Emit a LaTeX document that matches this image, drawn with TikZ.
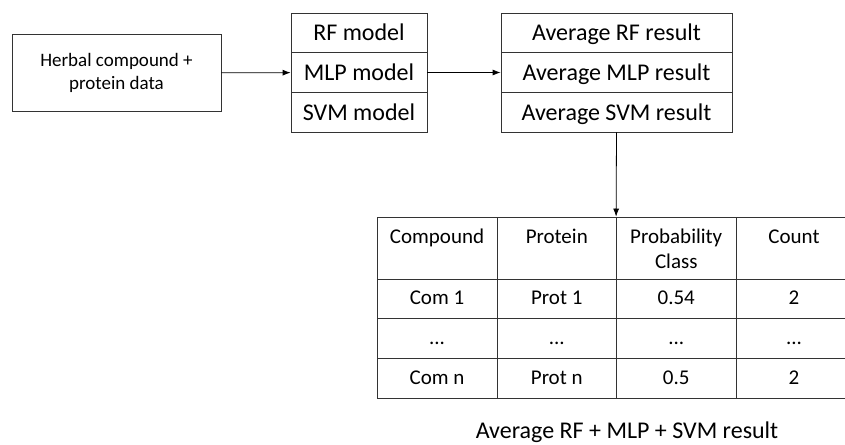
\documentclass[tikz,border=0pt]{standalone}
\usepackage{fontspec}
\setmainfont{Carlito}
\usetikzlibrary{arrows.meta}

\tikzset{
  box/.style={draw=black!80, line width=0.8pt, inner sep=0pt},
  model/.style={box, minimum height=39.7pt, text height=18pt, text depth=2pt, font=\fontsize{24}{28}\selectfont},
  cell/.style={box, minimum height=39.7pt, text height=15pt, text depth=3pt, font=\fontsize{21}{25}\selectfont},
  head/.style={box, align=center, text height=17pt, text depth=27pt, inner ysep=9pt, font=\fontsize{21}{25}\selectfont}
}

\begin{document}
\begin{tikzpicture}[x=1pt, y=-1pt, >={Latex[length=8pt,width=6pt]}, line width=0.8pt]
\useasboundingbox (0,0) rectangle (845,444);

\node (data) at (116.5,73) [box, minimum width=209pt, minimum height=77pt, align=center, font=\fontsize{19}{23}\selectfont] {Herbal compound +\\protein data};

\node (rf) at (359,32.8) [model, minimum width=136pt] {RF model};
\node (mlp) at (359,72.5) [model, minimum width=136pt] {MLP model};
\node (svm) at (359,112.2) [model, minimum width=136pt] {SVM model};

\node (avgrf) at (616.5,32.8) [model, minimum width=231pt] {Average RF result};
\node (avgmlp) at (616.5,72.5) [model, minimum width=231pt] {Average MLP result};
\node (avgsvm) at (616.5,112.2) [model, minimum width=231pt] {Average SVM result};

% table header
\node (hcom) at (437,248) [head, minimum width=120pt] {Compound};
\node (hprot) at (556.75,248) [head, minimum width=119.5pt] {Protein};
\node (hprob) at (676.25,248) [head, minimum width=119.5pt, text height=42pt, text depth=2pt] {Probability\\Class};
\node (hcount) at (794,248) [head, minimum width=116pt] {Count};

% table rows
\node (com1) at (437,298.8) [cell, minimum width=120pt] {Com 1};
\node (prot1) at (556.75,298.8) [cell, minimum width=119.5pt] {Prot 1};
\node (prob1) at (676.25,298.8) [cell, minimum width=119.5pt] {0.54};
\node (count1) at (794,298.8) [cell, minimum width=116pt] {2};

\node (comd) at (437,338.5) [cell, minimum width=120pt] {...};
\node (protd) at (556.75,338.5) [cell, minimum width=119.5pt] {...};
\node (probd) at (676.25,338.5) [cell, minimum width=119.5pt] {...};
\node (countd) at (794,338.5) [cell, minimum width=116pt] {...};

\node (comn) at (437,378.2) [cell, minimum width=120pt] {Com n};
\node (protn) at (556.75,378.2) [cell, minimum width=119.5pt] {Prot n};
\node (probn) at (676.25,378.2) [cell, minimum width=119.5pt] {0.5};
\node (countn) at (794,378.2) [cell, minimum width=116pt] {2};

\node (caption) at (627,438) [anchor=base, font=\fontsize{24}{28}\selectfont] {Average RF + MLP + SVM result};

\draw [->] (data) -> (mlp);
\draw [->] (mlp) -> (avgmlp);
\draw [->] (avgsvm.south) -> (hprob.north west);
\end{tikzpicture}
\end{document}
